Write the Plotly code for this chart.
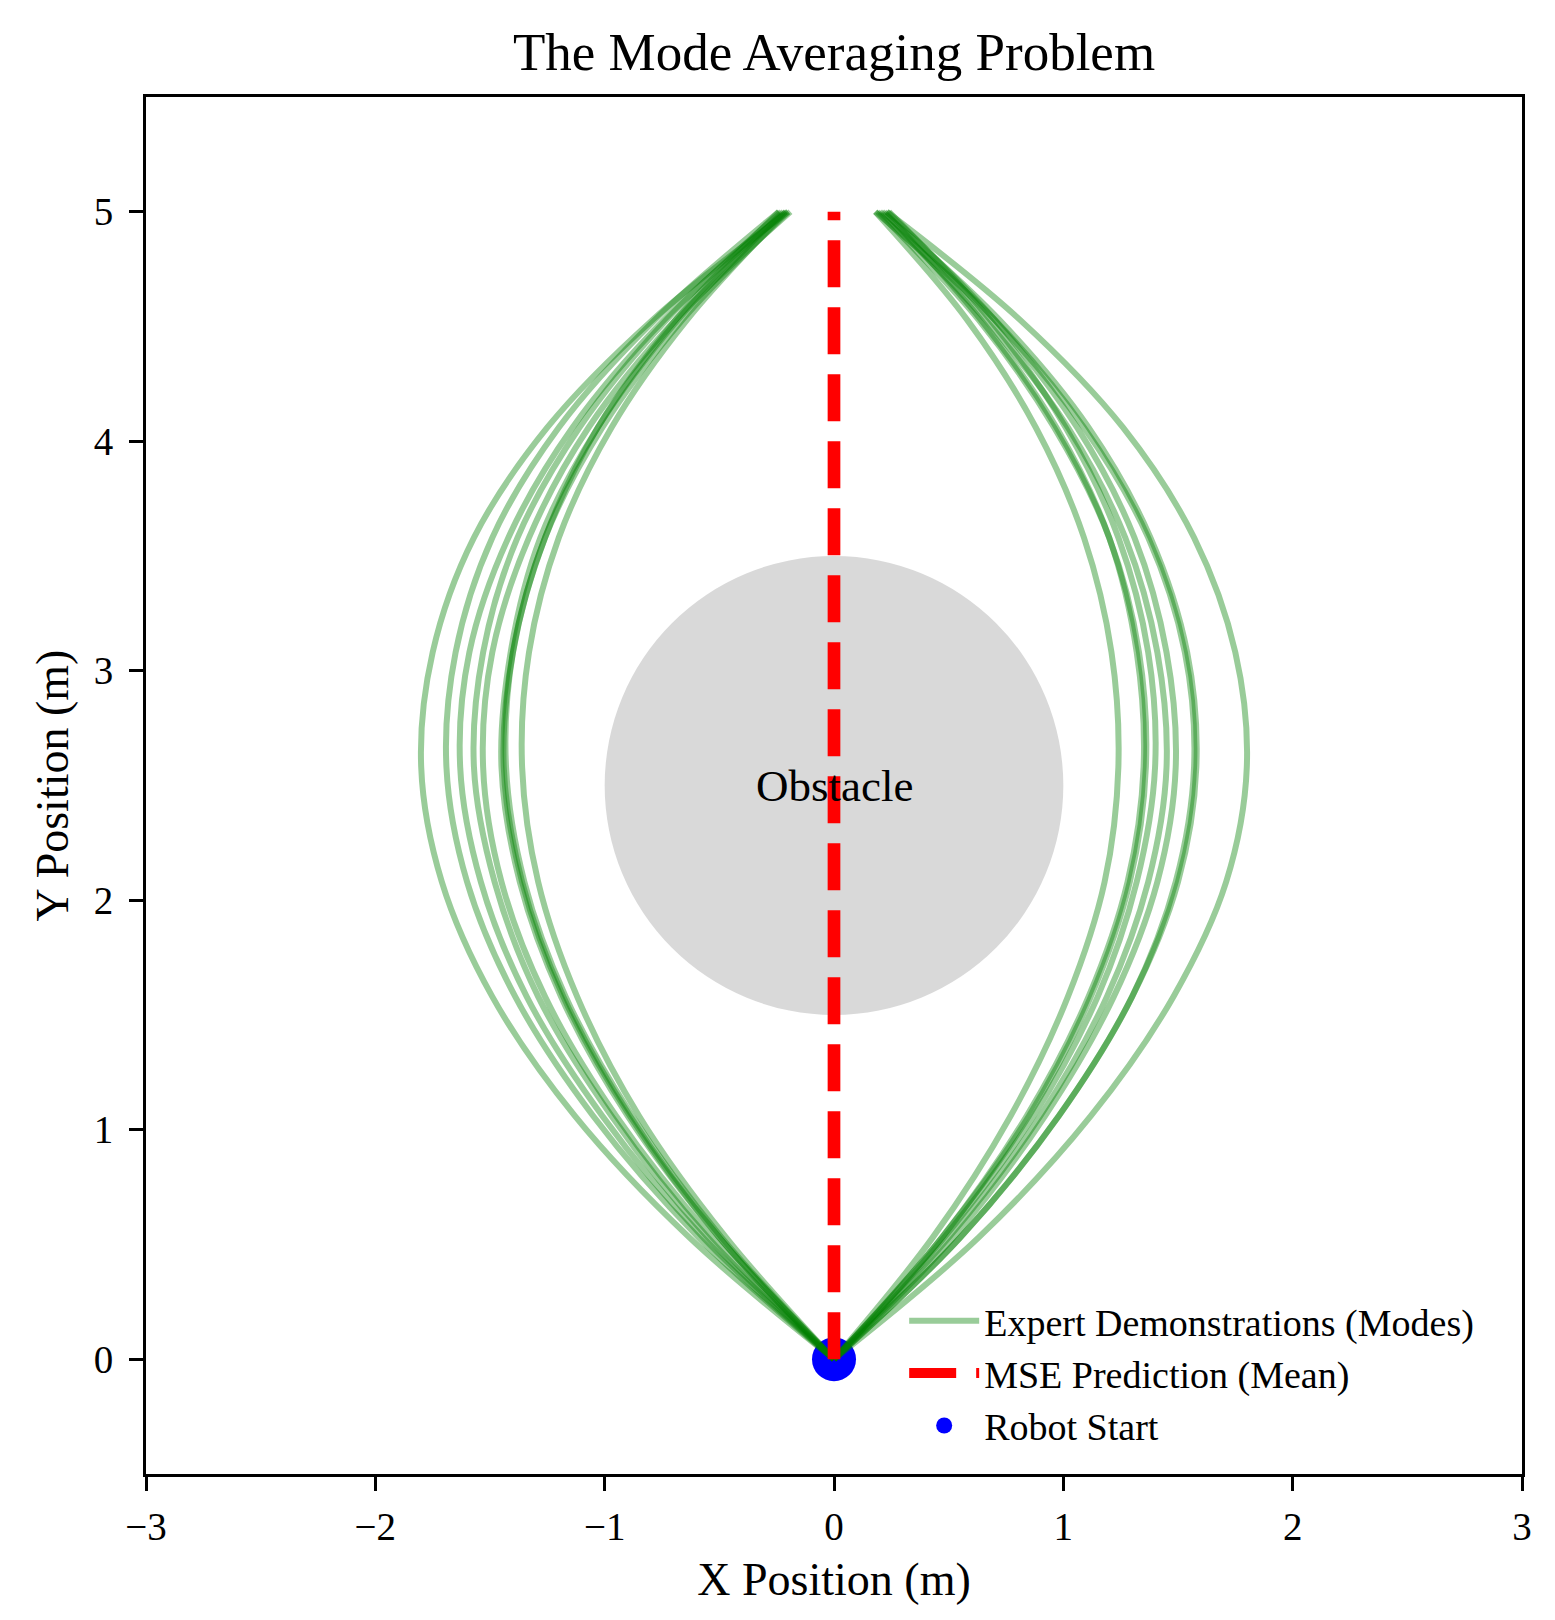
import plotly.graph_objects as go

Y_LEVELS = [0.0, 0.53, 1.06, 1.58, 2.08, 2.58, 3.08, 3.58, 4.06, 4.53, 5.0]

# paths going round the left side of the obstacle (x at each y level)
LEFT_MODES = [
    [0, -0.63, -1.13, -1.49, -1.71, -1.80, -1.75, -1.57, -1.25, -0.79, -0.20],
    [0, -0.59, -1.05, -1.39, -1.60, -1.69, -1.65, -1.49, -1.20, -0.78, -0.24],
    [0, -0.57, -1.01, -1.34, -1.54, -1.63, -1.59, -1.42, -1.14, -0.74, -0.21],
    [0, -0.55, -0.97, -1.29, -1.48, -1.57, -1.53, -1.38, -1.11, -0.73, -0.23],
    [0, -0.53, -0.95, -1.26, -1.45, -1.53, -1.49, -1.33, -1.07, -0.69, -0.19],
    [0, -0.50, -0.90, -1.19, -1.37, -1.45, -1.41, -1.28, -1.03, -0.68, -0.22],
    [0, -0.50, -0.89, -1.18, -1.36, -1.44, -1.40, -1.26, -1.01, -0.66, -0.20],
    [0, -0.49, -0.88, -1.17, -1.35, -1.43, -1.40, -1.26, -1.03, -0.69, -0.24],
    [0, -0.47, -0.85, -1.12, -1.29, -1.36, -1.33, -1.20, -0.97, -0.64, -0.21],
]

# paths going round the right side
RIGHT_MODES = [
    [0, 0.43, 0.77, 1.02, 1.18, 1.24, 1.21, 1.09, 0.88, 0.58, 0.18],
    [0, 0.47, 0.84, 1.11, 1.28, 1.35, 1.32, 1.20, 0.97, 0.64, 0.22],
    [0, 0.47, 0.85, 1.12, 1.29, 1.36, 1.33, 1.20, 0.96, 0.63, 0.19],
    [0, 0.48, 0.87, 1.15, 1.32, 1.40, 1.37, 1.24, 1.01, 0.68, 0.24],
    [0, 0.50, 0.90, 1.19, 1.37, 1.45, 1.41, 1.27, 1.02, 0.66, 0.20],
    [0, 0.52, 0.92, 1.22, 1.41, 1.49, 1.45, 1.31, 1.06, 0.70, 0.23],
    [0, 0.55, 0.98, 1.30, 1.49, 1.57, 1.53, 1.37, 1.09, 0.70, 0.18],
    [0, 0.55, 0.98, 1.30, 1.50, 1.58, 1.54, 1.38, 1.11, 0.72, 0.21],
    [0, 0.63, 1.12, 1.48, 1.71, 1.80, 1.75, 1.57, 1.26, 0.81, 0.23],
]

MEAN_X = [0, 0]
MEAN_Y = [0, 5]

START_X = [0]
START_Y = [0]

OBSTACLE_CENTER = (0.0, 2.5)
OBSTACLE_RADIUS = 1.0

X_TICKS = [-3, -2, -1, 0, 1, 2, 3]
Y_TICKS = [0, 1, 2, 3, 4, 5]

FONT = "Liberation Serif, DejaVu Serif, serif"

fig = go.Figure()

# start point goes first so the paths are drawn over it
fig.add_trace(
    go.Scatter(
        x=START_X,
        y=START_Y,
        mode="markers",
        marker=dict(color="blue", size=44, line=dict(width=0)),
        name="Robot Start",
        legendrank=3,
    )
)

for i, xs in enumerate(LEFT_MODES + RIGHT_MODES):
    fig.add_trace(
        go.Scatter(
            x=xs,
            y=Y_LEVELS,
            mode="lines",
            line=dict(color="rgba(0,128,0,0.4)", width=6, shape="spline", smoothing=1.0),
            name="Expert Demonstrations (Modes)",
            showlegend=(i == 0),
            legendrank=1,
            hoverinfo="skip",
        )
    )

fig.add_trace(
    go.Scatter(
        x=MEAN_X,
        y=MEAN_Y,
        mode="lines",
        line=dict(color="red", width=12.7, dash="47px,20px"),
        name="MSE Prediction (Mean)",
        legendrank=2,
    )
)

cx, cy = OBSTACLE_CENTER
fig.add_shape(
    type="circle",
    xref="x",
    yref="y",
    x0=cx - OBSTACLE_RADIUS,
    x1=cx + OBSTACLE_RADIUS,
    y0=cy - OBSTACLE_RADIUS,
    y1=cy + OBSTACLE_RADIUS,
    fillcolor="rgba(128,128,128,0.3)",
    line=dict(width=0),
    layer="below",
)

fig.add_annotation(
    x=cx,
    y=cy,
    text="Obstacle",
    showarrow=False,
    xanchor="center",
    yanchor="middle",
    font=dict(family=FONT, size=45, color="black"),
)

axis_style = dict(
    showgrid=False,
    zeroline=False,
    showline=True,
    mirror=True,
    linecolor="black",
    linewidth=3,
    ticks="outside",
    ticklen=14,
    tickwidth=2.5,
    tickcolor="black",
    tickfont=dict(family=FONT, size=39, color="black"),
)

fig.update_xaxes(
    range=[-3, 3],
    tickvals=X_TICKS,
    ticklabelstandoff=2,
    title=dict(text="X Position (m)", font=dict(family=FONT, size=46, color="black"), standoff=17),
    **axis_style,
)
fig.update_yaxes(
    range=[-0.5, 5.5],
    tickvals=Y_TICKS,
    ticklabelstandoff=8,
    title=dict(text="Y Position (m)", font=dict(family=FONT, size=46, color="black"), standoff=11),
    **axis_style,
)

fig.update_layout(
    width=1555,
    height=1620,
    margin=dict(l=138, r=41, t=89, b=154),
    plot_bgcolor="white",
    paper_bgcolor="white",
    font=dict(family=FONT, color="black"),
    title=dict(
        text="The Mode Averaging Problem",
        x=0.5,
        xref="paper",
        xanchor="center",
        y=1 - 43 / 1620,
        yanchor="middle",
        font=dict(family=FONT, size=53, color="black"),
    ),
    legend=dict(
        x=0.551,
        y=0.012,
        xanchor="left",
        yanchor="bottom",
        bgcolor="rgba(0,0,0,0)",
        itemwidth=70,
        font=dict(family=FONT, size=38, color="black"),
        tracegroupgap=0,
    ),
)

fig.write_html("out.html")
